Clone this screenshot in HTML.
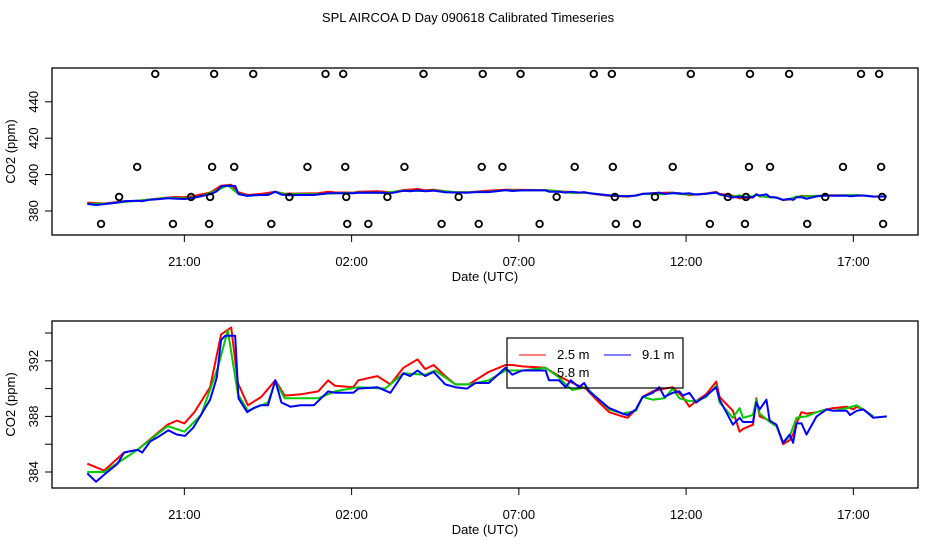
<!DOCTYPE html>
<html><head><meta charset="utf-8"><style>
body{margin:0;background:#fff}
svg{display:block;font-family:"Liberation Sans",Arial,sans-serif}
</style></head><body>
<svg id="c" width="936" height="540" xmlns="http://www.w3.org/2000/svg">
<rect width="936" height="540" fill="#fff"/>
<text x="468" y="22" text-anchor="middle" font-size="13">SPL AIRCOA D  Day 090618  Calibrated Timeseries</text>
</svg>
<script>
const xTickHours=[3,8,13,18,23];
const xTickLabels=["21:00","02:00","07:00","12:00","17:00"];
const topYTicks=[380,400,420,440];
const botYTicks=[384,386,388,390,392,394];
const botYLabels=[384,388,392];
const redT=[0.1,0.6,1.2,1.6,2.0,2.5,2.77,3.0,3.3,3.77,4.1,4.4,4.6,4.9,5.3,5.72,6.0,6.5,7.0,7.3,7.5,8.05,8.2,8.77,9.16,9.55,9.97,10.2,10.45,10.8,11.1,11.5,12.1,12.6,12.8,13.1,13.8,14.2,14.6,15.0,15.4,15.7,16.1,16.25,16.5,16.7,17.0,17.35,17.6,17.9,18.1,18.3,18.6,18.9,19.0,19.4,19.6,19.7,20.0,20.1,20.2,20.5,20.7,20.9,21.1,21.2,21.3,21.45,21.6,21.9,22.2,22.4,22.8,23.0,23.1,23.3,23.6];
const redV=[384.6,384.1,385.4,385.6,386.4,387.4,387.7,387.5,388.3,390.1,393.9,394.4,390.4,388.8,389.4,390.6,389.5,389.6,389.8,390.6,390.2,390.1,390.6,390.9,390.3,391.5,392.1,391.4,391.7,390.9,390.3,390.3,391.2,391.7,391.7,391.6,391.5,390.9,390.4,390.0,389.0,388.3,388.0,387.9,388.5,389.4,389.8,390.0,390.1,389.4,388.7,389.1,389.6,390.5,389.4,388.4,386.9,387.1,387.4,389.3,388.0,387.7,387.4,386.0,386.3,386.7,387.5,388.3,388.2,388.3,388.5,388.6,388.7,388.5,388.7,388.5,388.0];
const greenT=[0.1,0.6,1.6,2.5,3.0,3.5,4.0,4.3,4.6,4.9,5.5,5.72,6.0,7.0,7.5,8.2,9.0,9.55,10.2,10.5,11.1,11.5,12.1,12.6,13.1,13.8,14.2,14.4,14.6,15.0,15.4,15.7,16.1,16.5,16.7,17.0,17.35,17.6,17.8,18.1,18.3,18.6,18.9,19.0,19.4,19.6,19.7,20.0,20.1,20.2,20.5,20.7,20.9,21.1,21.3,21.6,21.9,22.2,22.4,22.8,23.1,23.6];
const greenV=[384.0,384.0,385.6,387.3,386.9,388.1,391.5,394.2,389.6,388.4,389.0,390.5,389.3,389.3,389.8,390.1,390.0,391.1,391.0,391.3,390.3,390.3,390.6,391.3,391.3,391.5,390.8,390.3,389.9,390.1,389.2,388.5,388.2,388.4,389.4,389.2,389.3,390.0,389.3,389.1,389.1,389.4,390.2,389.0,387.9,388.6,387.9,388.1,389.2,388.2,387.6,387.3,386.1,386.6,387.9,388.0,388.3,388.5,388.4,388.6,388.8,388.0];
const blueT=[0.1,0.36,0.6,1.0,1.2,1.6,1.74,1.98,2.2,2.52,2.77,3.02,3.27,3.47,3.77,3.97,4.1,4.22,4.52,4.62,4.88,5.07,5.27,5.5,5.72,5.9,6.17,6.47,6.87,7.3,7.5,8.05,8.2,8.77,9.16,9.55,9.75,9.97,10.2,10.45,10.8,11.1,11.45,11.7,12.1,12.6,12.8,13.1,13.8,13.9,14.2,14.4,14.55,14.8,14.95,15.1,15.4,15.7,16.1,16.25,16.5,16.7,17.0,17.2,17.35,17.6,17.8,17.9,18.1,18.3,18.6,18.9,19.0,19.4,19.6,19.7,20.0,20.1,20.2,20.4,20.5,20.7,20.9,21.1,21.2,21.3,21.45,21.6,21.9,22.2,22.4,22.8,22.9,23.1,23.3,23.6,24.0];
const blueV=[383.9,383.3,383.8,384.6,385.4,385.6,385.4,386.2,386.5,387.0,386.7,386.6,387.2,388.0,389.2,390.8,393.5,393.8,393.8,389.3,388.3,388.6,388.8,388.8,390.6,389.0,388.7,388.8,388.8,389.8,389.7,389.7,390.0,390.1,389.7,391.1,390.9,391.3,390.9,391.2,390.3,390.1,390.0,390.4,390.4,391.5,391.0,391.3,391.3,390.6,390.6,390.1,390.6,390.1,390.4,389.8,389.2,388.6,388.2,388.1,388.5,389.4,389.7,390.1,389.4,389.7,389.8,389.5,389.7,389.0,389.5,390.1,389.2,387.4,387.9,387.6,387.6,389.0,388.5,389.2,387.7,387.4,386.1,386.7,386.1,387.5,387.5,386.7,388.0,388.5,388.4,388.4,388.1,388.4,388.5,387.9,388.0];
const ptsHighT=[2.13,3.89,5.06,7.22,7.75,10.15,11.92,13.05,15.24,15.78,18.14,19.91,21.08,23.23,23.77];
const ptsHighV=455.3;
const pts404T=[1.59,3.83,4.49,6.68,7.81,9.58,11.89,12.51,14.67,15.81,17.6,19.88,20.51,22.69,23.83];
const pts404V=404.2;
const pts387T=[1.05,3.2,3.77,6.14,7.84,9.07,11.2,14.13,15.87,17.07,19.25,19.79,22.16,23.86];
const pts387V=387.7;
const ptsLowT=[0.51,2.66,3.74,5.6,7.87,8.5,10.69,11.8,13.62,15.9,16.53,18.71,19.76,21.62,23.89];
const ptsLowV=372.9;

const NS="http://www.w3.org/2000/svg";
const svg=document.getElementById('c');
function mk(tag,attrs,parent){const e=document.createElementNS(NS,tag);for(const k in attrs)e.setAttribute(k,attrs[k]);(parent||svg).appendChild(e);return e;}
const xS=t=>84+t*33.45;
const topY=v=>211-(v-380)*1.82;
const botY=v=>472-(v-384)*13.9;

function panel(name,top,bottom,yS,yticks,ylabels){
  const g=mk('g',{});
  
  
  const fr=mk('rect',{x:52,y:top,width:866,height:bottom-top,fill:'none',stroke:'#000','stroke-width':1.3},g);
  
  
  const xa=mk('g',{},g);
  
  
  mk('line',{x1:xS(xTickHours[0]),x2:xS(xTickHours[xTickHours.length-1]),y1:bottom,y2:bottom,stroke:'#000'},xa);
  xTickHours.forEach((h,i)=>{
    mk('line',{x1:xS(h),x2:xS(h),y1:bottom,y2:bottom+7,stroke:'#000'},xa);
    const t=mk('text',{x:xS(h),y:bottom+31,'text-anchor':'middle','font-size':13},xa);
    
    
    t.textContent=xTickLabels[i];
  });
  const xt=mk('text',{x:485,y:bottom+46,'text-anchor':'middle','font-size':13},g);
  
  
  xt.textContent='Date (UTC)';
  const ya=mk('g',{},g);
  
  
  mk('line',{x1:52,x2:52,y1:yS(yticks[0]),y2:yS(yticks[yticks.length-1]),stroke:'#000'},ya);
  yticks.forEach(v=>{mk('line',{x1:45,x2:52,y1:yS(v),y2:yS(v),stroke:'#000'},ya);});
  ylabels.forEach(v=>{
    const t=mk('text',{x:0,y:0,'text-anchor':'middle','font-size':13,transform:`translate(38,${yS(v)}) rotate(-90)`},ya);
    
    
    t.textContent=v;
  });
  const yt=mk('text',{x:0,y:0,'text-anchor':'middle','font-size':13,transform:`translate(15,${(top+bottom)/2}) rotate(-90)`},g);
  
  
  yt.textContent='CO2 (ppm)';
  return g;
}
function series(g,T,V,yS,color,name){
  const p=mk('polyline',{points:T.map((t,i)=>xS(t).toFixed(1)+','+yS(V[i]).toFixed(1)).join(' '),fill:'none',stroke:color,'stroke-width':2,'stroke-linejoin':'round'},g);
  
  
}
const g1=panel('top-panel',68,235,topY,topYTicks,topYTicks);
series(g1,redT,redV,topY,'#ff0000','top-series-2.5m');
series(g1,greenT,greenV,topY,'#00cc00','top-series-5.8m');
series(g1,blueT,blueV,topY,'#0000ff','top-series-9.1m');
[[ptsHighT,ptsHighV],[pts404T,pts404V],[pts387T,pts387V],[ptsLowT,ptsLowV]].forEach(([T,v])=>{
  T.forEach(t=>{
    const c=mk('circle',{cx:xS(t),cy:topY(v),r:3.3,fill:'none',stroke:'#000','stroke-width':1.8},g1);
    
    
  });
});
const g2=panel('bottom-panel',321,488,botY,botYTicks,botYLabels);
series(g2,redT,redV,botY,'#ff0000','series-2.5m');
series(g2,greenT,greenV,botY,'#00cc00','series-5.8m');
series(g2,blueT,blueV,botY,'#0000ff','series-9.1m');
const lg=mk('g',{},g2);


mk('rect',{x:507,y:338,width:176,height:50,fill:'none',stroke:'#000','stroke-width':1.2},lg);
[['2.5 m','#ff0000',519,557,359],['9.1 m','#0000ff',604,642,359],['5.8 m','none',519,557,377]].forEach(([lab,col,lx,tx,ty])=>{
  const e=mk('g',{},lg);
  
  
  mk('line',{x1:lx,x2:lx+27,y1:ty-4,y2:ty-4,stroke:col,'stroke-width':1},e);
  const t=mk('text',{x:tx,y:ty,'font-size':13},e);
  t.textContent=lab;
});
</script>
</body></html>
